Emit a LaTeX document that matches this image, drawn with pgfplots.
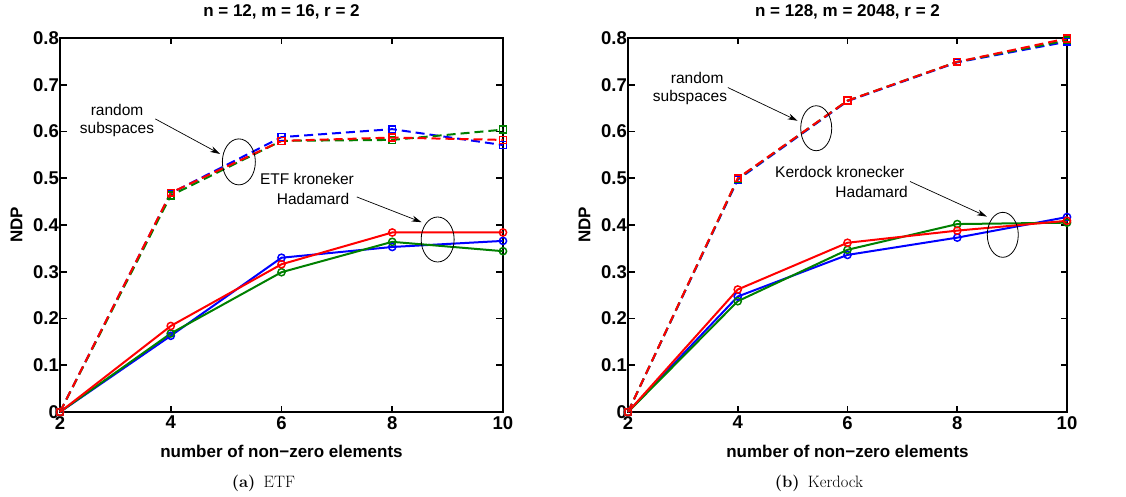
\documentclass[border=0pt]{standalone}
\usepackage{fontspec}
\setsansfont{Liberation Sans}
\usepackage{pgfplots}
\pgfplotsset{compat=1.18}
\usetikzlibrary{arrows.meta}

\definecolor{mblue}{rgb}{0,0,1}
\definecolor{mgreen}{rgb}{0,0.5,0}
\definecolor{mred}{rgb}{1,0,0}

\newcommand\tickfont{\sffamily\bfseries\fontsize{18.5}{20}\selectfont}
\newcommand\labfont{\sffamily\bfseries\fontsize{17}{19}\selectfont}
\newcommand\notefont{\sffamily\fontsize{15.5}{17}\selectfont}

\pgfplotsset{
  ndp/.style={
    scale only axis, height=374pt,
    xmin=2, xmax=10, ymin=0, ymax=0.8,
    xtick={2,4,6,8,10},
    ytick={0,0.1,0.2,0.3,0.4,0.5,0.6,0.7,0.8},
    tick pos=both, tick align=inside, major tick length=6.5pt,
    every tick/.style={black, line width=1.6pt},
    axis line style={line width=1.9pt},
    /pgf/number format/assume math mode=true,
    ticklabel style={font=\tickfont},
    yticklabel style={/pgf/number format/fixed, /pgf/number format/precision=1, inner xsep=1pt},
    xticklabel style={inner ysep=2pt, yshift=-2pt},
    xlabel={number of non−zero elements}, ylabel={NDP},
    label style={font=\labfont},
    title style={font=\labfont, at={(axis description cs:0.5,1)}, anchor=base, yshift=15pt},
    xlabel style={at={(axis description cs:0.5,0)}, anchor=base, yshift=-45pt},
    clip=false,
  },
  rnd/.style={line width=2pt, dash pattern=on 9pt off 5pt, mark=square,
    mark size=3.4pt, mark options={solid, line width=1.5pt}},
  kh/.style={line width=2pt, mark=o, mark size=3.6pt,
    mark options={solid, line width=1.5pt}},
}
\tikzset{
  note/.style={font=\notefont, align=center, inner sep=0pt},
  arr/.style={-{Stealth[length=10pt,width=6pt]}, line width=0.7pt},
  ell/.style={line width=0.8pt},
}

\begin{document}
\begin{tikzpicture}
\begin{axis}[ndp, width=443pt, at={(0pt,0pt)},
  title={n = 12, m = 16, r = 2},
  ylabel style={at={(axis description cs:-0.098,0.5)}, anchor=center}]
  % random subspaces
  \addplot[rnd, mblue] coordinates {(2,0) (4,0.468) (6,0.588) (8,0.605) (10,0.571)};
  \addplot[rnd, mgreen] coordinates {(2,0) (4,0.463) (6,0.580) (8,0.582) (10,0.604)};
  \addplot[rnd, mred] coordinates {(2,0) (4,0.469) (6,0.580) (8,0.587) (10,0.582)};
  % ETF kroneker Hadamard
  \addplot[kh, mblue] coordinates {(2,0) (4,0.163) (6,0.330) (8,0.353) (10,0.366)};
  \addplot[kh, mgreen] coordinates {(2,0) (4,0.168) (6,0.299) (8,0.364) (10,0.344)};
  \addplot[kh, mred] coordinates {(2,0) (4,0.184) (6,0.316) (8,0.384) (10,0.384)};
  \node[note] at (axis cs:3.03,0.646) {random};
  \node[note] at (axis cs:3.03,0.605) {subspaces};
  \draw[arr] (axis cs:3.72,0.627) -- (axis cs:4.89,0.552);
  \draw[ell] (axis cs:5.23,0.535) ellipse [x radius=16.5pt, y radius=23pt];
  \node[note] at (axis cs:6.46,0.498) {ETF kroneker};
  \node[note] at (axis cs:6.57,0.456) {Hadamard};
  \draw[arr] (axis cs:7.36,0.460) -- (axis cs:8.53,0.406);
  \draw[ell] (axis cs:8.82,0.369) ellipse [x radius=16.5pt, y radius=22.5pt];
\end{axis}
\node[font=\fontsize{16.5}{18}\selectfont, anchor=base] at (203.5pt,-75pt) {\textbf{(a)}\enspace ETF};

\begin{axis}[ndp, width=439pt, at={(568pt,0pt)},
  title={n = 128, m = 2048, r = 2},
  ylabel style={at={(axis description cs:-0.099,0.5)}, anchor=center}]
  % random subspaces
  \addplot[rnd, mblue] coordinates {(2,0) (4,0.497) (6,0.665) (8,0.748) (10,0.792)};
  \addplot[rnd, mgreen] coordinates {(2,0) (4,0.499) (6,0.666) (8,0.749) (10,0.795)};
  \addplot[rnd, mred] coordinates {(2,0) (4,0.500) (6,0.666) (8,0.749) (10,0.799)};
  % Kerdock kronecker Hadamard
  \addplot[kh, mblue] coordinates {(2,0) (4,0.247) (6,0.336) (8,0.373) (10,0.417)};
  \addplot[kh, mgreen] coordinates {(2,0) (4,0.237) (6,0.347) (8,0.402) (10,0.405)};
  \addplot[kh, mred] coordinates {(2,0) (4,0.262) (6,0.362) (8,0.388) (10,0.409)};
  \node[note] at (axis cs:3.26,0.715) {random};
  \node[note] at (axis cs:3.13,0.672) {subspaces};
  \draw[arr] (axis cs:3.82,0.694) -- (axis cs:5.09,0.623);
  \draw[ell] (axis cs:5.43,0.607) ellipse [x radius=15.5pt, y radius=22.5pt];
  \node[note] at (axis cs:5.86,0.513) {Kerdock kronecker};
  \node[note] at (axis cs:6.44,0.470) {Hadamard};
  \draw[arr] (axis cs:7.14,0.493) -- (axis cs:8.54,0.418);
  \draw[ell] (axis cs:8.83,0.379) ellipse [x radius=15.5pt, y radius=22.5pt];
\end{axis}
\node[font=\fontsize{16.5}{18}\selectfont, anchor=base] at (759pt,-75pt) {\textbf{(b)}\enspace Kerdock};

\pgfresetboundingbox
\path (-60pt,-84pt) rectangle (1066pt,412pt);
\end{tikzpicture}
\end{document}
